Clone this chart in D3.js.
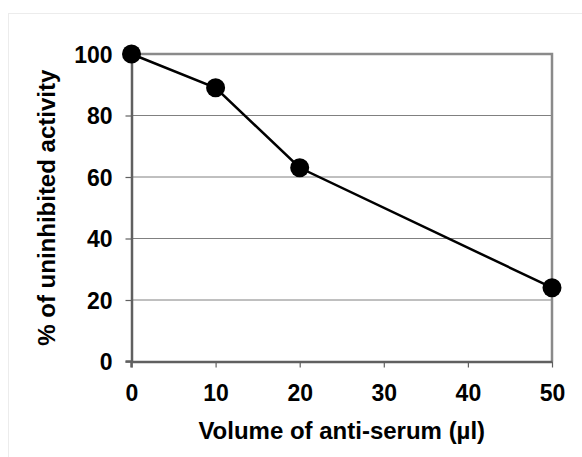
<!DOCTYPE html>
<html>
<head>
<meta charset="utf-8">
<script src="https://cdn.jsdelivr.net/npm/d3@7"></script>
<style>
  body { margin: 0; background: #fff; }
  svg text { font-family: "Liberation Sans", Arial, sans-serif; font-weight: bold; fill: #000; }
</style>
</head>
<body>
<svg id="chart" width="582" height="457"></svg>
<script>
// values
const volumes = [0, 10, 20, 50];
const activity = [100, 89, 63, 24];
const xTicks = [0, 10, 20, 30, 40, 50];
const yTicks = [0, 20, 40, 60, 80, 100];
const xTitle = "Volume of anti-serum (\u00b5l)";
const yTitle = "% of uninhibited activity";

const margin = { top: 54, right: 30, bottom: 95, left: 131.5 };
const width = 552 - margin.left;
const height = 361.5 - margin.top;

const svg = d3.select("#chart");

// faint outer frame
svg.append("rect")
  .attr("x", 8.5).attr("y", 13.5)
  .attr("width", 600).attr("height", 500)
  .attr("fill", "none")
  .attr("stroke", "#ececec")
  .attr("stroke-width", 1);

const g = svg.append("g").attr("transform", `translate(${margin.left},${margin.top})`);

const x = d3.scaleLinear().domain([0, 50]).range([0, width]);
const y = d3.scaleLinear().domain([0, 100]).range([height, 0]);

// gridlines
g.append("g")
  .selectAll("line")
  .data(yTicks.filter(d => d > 0 && d < 100))
  .join("line")
  .attr("x1", 0).attr("x2", width)
  .attr("y1", d => y(d)).attr("y2", d => y(d))
  .attr("stroke", "#808080")
  .attr("stroke-width", 1);

// plot area top and right edges
g.append("path")
  .attr("d", `M0,${y(100)}H${width}V${height}`)
  .attr("fill", "none")
  .attr("stroke", "#8a8a8a")
  .attr("stroke-width", 2.5);

// axes
const xAxis = g.append("g")
  .attr("transform", `translate(0,${height})`)
  .call(d3.axisBottom(x).tickValues(xTicks).tickSize(6).tickSizeOuter(0).tickPadding(17));
const yAxis = g.append("g")
  .call(d3.axisLeft(y).tickValues(yTicks).tickSize(6).tickSizeOuter(0).tickPadding(13));

[xAxis, yAxis].forEach(a => {
  a.select(".domain").attr("stroke", "#606060").attr("stroke-width", 2.5);
  a.selectAll(".tick line").attr("stroke", "#606060").attr("stroke-width", 1.2);
  a.selectAll(".tick text").attr("font-size", 23).attr("font-family", null);
});
yAxis.selectAll(".tick text").attr("dy", "0.36em");
// left axis line extends below the x axis like the tick marks
yAxis.append("line")
  .attr("x1", 0).attr("x2", 0)
  .attr("y1", height).attr("y2", height + 6)
  .attr("stroke", "#606060").attr("stroke-width", 2.5);
xAxis.append("line")
  .attr("x1", -6).attr("x2", 0)
  .attr("y1", 0).attr("y2", 0)
  .attr("stroke", "#606060").attr("stroke-width", 2.5);

// series
const data = volumes.map((v, i) => ({ v, a: activity[i] }));
const line = d3.line().x(d => x(d.v)).y(d => y(d.a));
g.append("path")
  .datum(data)
  .attr("d", line)
  .attr("fill", "none")
  .attr("stroke", "#000")
  .attr("stroke-width", 2.5);
g.selectAll("circle.pt")
  .data(data)
  .join("circle")
  .attr("class", "pt")
  .attr("cx", d => x(d.v))
  .attr("cy", d => y(d.a))
  .attr("r", 9.5)
  .attr("fill", "#000");

// titles
svg.append("text")
  .attr("x", margin.left + width / 2)
  .attr("y", 439)
  .attr("text-anchor", "middle")
  .attr("font-size", 24)
  .text(xTitle);
svg.append("text")
  .attr("transform", `translate(55,${margin.top + height / 2}) rotate(-90)`)
  .attr("text-anchor", "middle")
  .attr("font-size", 24)
  .text(yTitle);
</script>
</body>
</html>
